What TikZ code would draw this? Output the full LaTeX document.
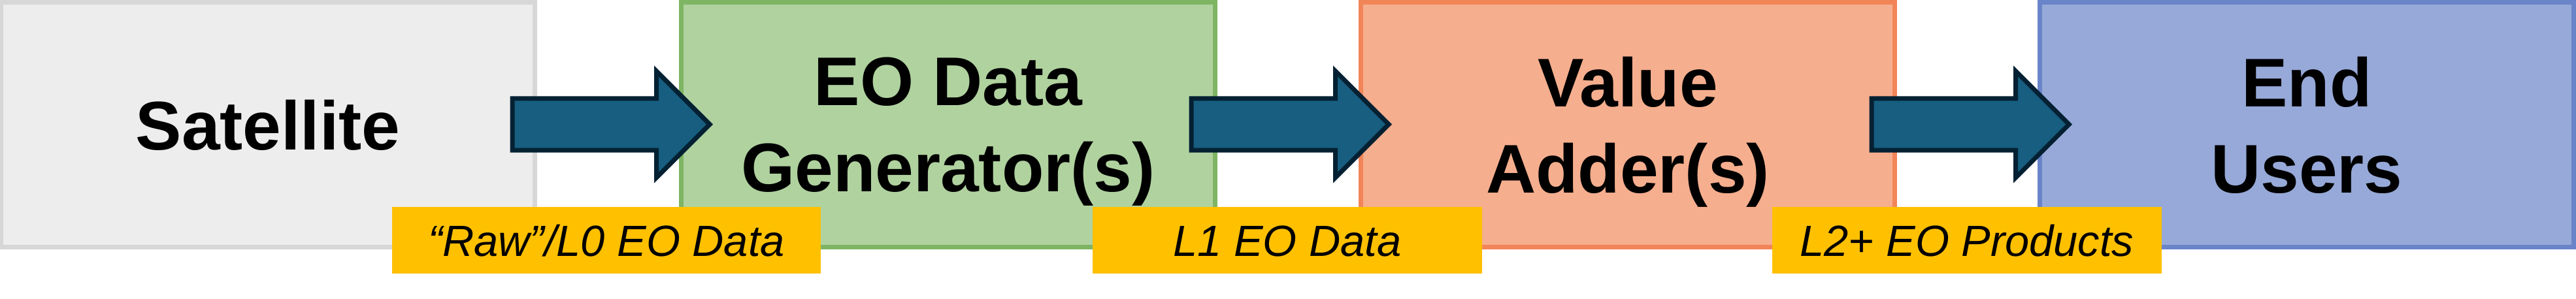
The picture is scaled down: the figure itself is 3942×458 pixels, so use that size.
\documentclass[tikz,border=0pt]{standalone}
\usepackage{fontspec}
\setmainfont{Liberation Sans}
\usetikzlibrary{shapes.arrows}

\definecolor{satfill}{HTML}{EDEDED}
\definecolor{satline}{HTML}{D7D7D7}
\definecolor{genfill}{HTML}{B0D29F}
\definecolor{genline}{HTML}{7EB563}
\definecolor{addfill}{HTML}{F5AE8E}
\definecolor{addline}{HTML}{F28558}
\definecolor{userfill}{HTML}{96A9D8}
\definecolor{userline}{HTML}{6A84C9}
\definecolor{arrowfill}{HTML}{175E80}
\definecolor{arrowline}{HTML}{042133}
\definecolor{tagfill}{HTML}{FFC000}

\begin{document}
\begin{tikzpicture}[x=0.01cm,y=-0.01cm,
    stage/.style={draw,line width=0.07cm,minimum width=8.16cm,minimum height=3.75cm,
      align=center,text depth=0pt,font=\fontsize{30}{37.6}\selectfont\bfseries},
    flow/.style={single arrow,draw=arrowline,fill=arrowfill,line width=0.07cm,
      anchor=tail,minimum height=3.02cm,minimum width=1.56cm,
      single arrow head extend=0.42cm,inner xsep=0pt,inner ysep=0.36cm},
    tag/.style={fill=tagfill,minimum width=5.96cm,minimum height=1.02cm,inner xsep=0pt,
      text height=0.48cm,text depth=0pt,font=\fontsize{19}{23}\selectfont\itshape}]
    \useasboundingbox (0,0) rectangle (3942,458);
    % stages
    \node[stage,fill=satfill,draw=satline] (sat) at (410,191) {Satellite};
    \node[stage,fill=genfill,draw=genline] (gen) at (1451,191) {EO Data\\Generator(s)};
    \node[stage,fill=addfill,draw=addline] (adder) at (2491,191) {Value\\Adder(s)};
    \node[stage,fill=userfill,draw=userline] (users) at (3530,191) {End\\Users};
    % arrows
    \node[flow] (f1) at (780.5,190.5) {};
    \node[flow] (f2) at (1819.5,190.5) {};
    \node[flow] (f3) at (2860.5,190.5) {};
    % data levels
    \node[tag,minimum width=6.55cm] (l0) at (928,368) {“Raw”/L0 EO Data};
    \node[tag] (l1) at (1970,368) {L1 EO Data};
    \node[tag] (l2) at (3010,368) {L2+ EO Products};
\end{tikzpicture}
\end{document}
